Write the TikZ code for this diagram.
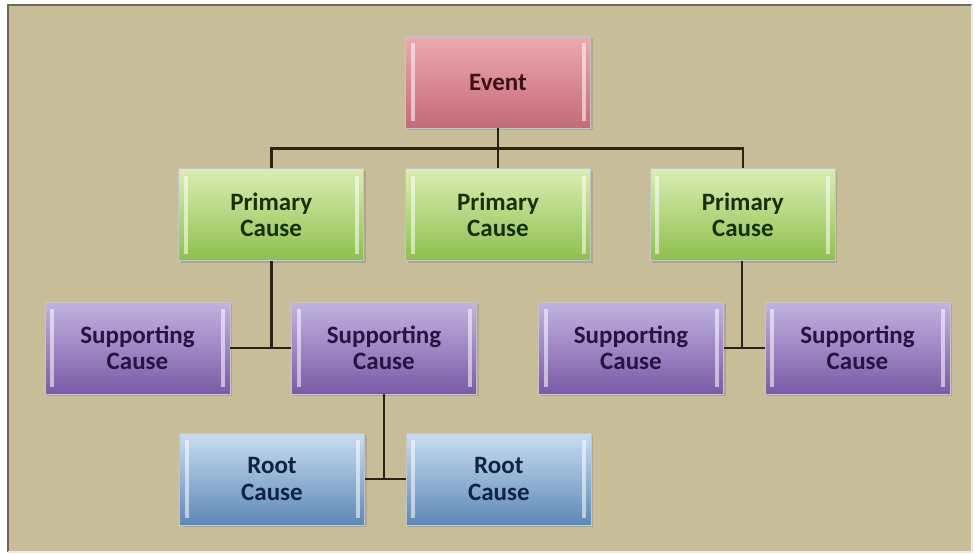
\documentclass[tikz,border=0pt]{standalone}
\usepackage{fontspec}
\setmainfont{Carlito}
\usepackage{xcolor}
\usepackage{tikz}
\usetikzlibrary{calc,positioning,shadows}

\definecolor{bgtan}{HTML}{C7BD98}
\definecolor{frameline}{HTML}{6E695A}
\definecolor{linkcol}{HTML}{2B2416}
\definecolor{evtop}{HTML}{EDAAB1}
\definecolor{evbot}{HTML}{C46A77}
\definecolor{evtext}{HTML}{3E1018}
\definecolor{prtop}{HTML}{DAEEB3}
\definecolor{prbot}{HTML}{8EBF4E}
\definecolor{prtext}{HTML}{17300A}
\definecolor{sptop}{HTML}{C2B3E0}
\definecolor{spbot}{HTML}{7A5AA7}
\definecolor{sptext}{HTML}{241545}
\definecolor{rttop}{HTML}{CADEF2}
\definecolor{rtbot}{HTML}{5C88B7}
\definecolor{rttext}{HTML}{102342}

\begin{document}
\begin{tikzpicture}[
        x=1pt, y=1pt,
        box/.style={rectangle, minimum width=185pt, minimum height=92pt, align=center,
            font=\bfseries\fontsize{25}{26.5}\selectfont, draw=white!55!gray, line width=0.8pt,
            drop shadow={shadow xshift=2pt, shadow yshift=-2pt, opacity=0.35},
            path picture={
                \fill[white, opacity=0.55] ([xshift=5pt,yshift=-7pt]path picture bounding box.north west) rectangle ([xshift=9pt,yshift=7pt]path picture bounding box.south west);
                \fill[white, opacity=0.55] ([xshift=-5pt,yshift=-7pt]path picture bounding box.north east) rectangle ([xshift=-9pt,yshift=7pt]path picture bounding box.south east);
            }},
        event/.style={box, top color=evtop, bottom color=evbot, text=evtext},
        primary/.style={box, top color=prtop, bottom color=prbot, text=prtext},
        support/.style={box, top color=sptop, bottom color=spbot, text=sptext},
        rootc/.style={box, top color=rttop, bottom color=rtbot, text=rttext},
        link/.style={draw=linkcol, line width=2.6pt}
    ]
        % frame
        \fill[white] (0,0) rectangle (975,-554);
        \fill[bgtan] (8,-5) rectangle (972,-552);
        \draw[frameline, line width=2.5pt] (8,-552) -- (8,-5) -- (972,-5);
        \draw[white!70!bgtan, line width=1.5pt] (8,-552) -- (972,-552) -- (972,-5);
        \useasboundingbox (0,0) rectangle (975,-554);

        \node[event] (event) at (498,-82) {Event};
        \node[primary, below=40pt of event] (pc2) {Primary\\Cause};
        \node[primary, left=41pt of pc2] (pc1) {Primary\\Cause};
        \node[primary, right=59pt of pc2] (pc3) {Primary\\Cause};

        \node[support] (sc1) at (137.5,-348) {Supporting\\Cause};
        \node[support] (sc2) at (384,-348) {Supporting\\Cause};
        \node[support] (sc3) at (631,-348) {Supporting\\Cause};
        \node[support] (sc4) at (857.5,-348) {Supporting\\Cause};

        \node[rootc] (rc1) at (272,-479) {Root\\Cause};
        \node[rootc, right=41pt of rc1] (rc2) {Root\\Cause};

        \draw[link] (event.south) -- (pc2.north);
        \draw[link] (pc1.north) -- ++(0,20pt) -| (pc3.north);
        \draw[link] (pc1.south) -- (pc1.south |- sc1.east);
        \draw[link] (sc1.east) -- (sc2.west);
        \draw[link] ([xshift=-1pt]pc3.south) -- ([xshift=-1pt]pc3.south |- sc3.east);
        \draw[link] (sc3.east) -- (sc4.west);
        \draw[link] (sc2.south) -- (sc2.south |- rc1.east);
        \draw[link] (rc1.east) -- (rc2.west);
    \end{tikzpicture}
\end{document}
